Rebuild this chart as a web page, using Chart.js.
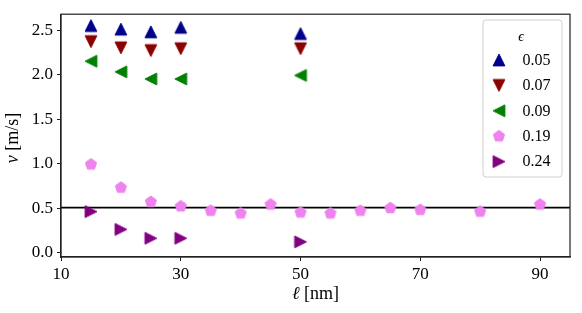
<!DOCTYPE html>
<html><head><meta charset="utf-8">
<script src="https://cdn.jsdelivr.net/npm/chart.js@4/dist/chart.umd.min.js"></script>
<style>html,body{margin:0;padding:0;background:#fff;}#wrap{width:582px;height:313px;}</style>
</head><body><div id="wrap"><canvas id="c" width="582" height="313"></canvas></div>
<script>
// ---- data ----
const epsLabels = ['0.05', '0.07', '0.09', '0.19', '0.24'];
const xA = [15, 20, 25, 30, 50];
const v005 = [2.55, 2.51, 2.48, 2.53, 2.46];
const v007 = [2.37, 2.30, 2.27, 2.29, 2.29];
const v009 = [2.15, 2.03, 1.95, 1.95, 1.99];
const xB = [15, 20, 25, 30, 35, 40, 45, 50, 55, 60, 65, 70, 80, 90];
const v019 = [0.99, 0.73, 0.57, 0.52, 0.47, 0.44, 0.54, 0.45, 0.44, 0.47, 0.50, 0.48, 0.46, 0.54];
const v024 = [0.46, 0.26, 0.16, 0.16, 0.12];
const refLevel = 0.505;
const xTicks = [10, 30, 50, 70, 90];
const yTicks = [0, 0.5, 1.0, 1.5, 2.0, 2.5];

const colors = ['#00008b', '#8b0000', '#008000', '#ee82ee', '#800080'];
const shapes = ['up', 'down', 'left', 'pent', 'right'];
const FONT = '"Liberation Serif", "DejaVu Serif", serif';

function makeMarker(shape, color, s) {
  const size = Math.ceil(s + 4);
  const c = document.createElement('canvas');
  c.width = size; c.height = size;
  const g = c.getContext('2d');
  const cx = size / 2, h = s / 2;
  g.beginPath();
  if (shape === 'up') { g.moveTo(cx, cx - h); g.lineTo(cx - h, cx + h); g.lineTo(cx + h, cx + h); }
  else if (shape === 'down') { g.moveTo(cx, cx + h); g.lineTo(cx - h, cx - h); g.lineTo(cx + h, cx - h); }
  else if (shape === 'left') { g.moveTo(cx - h, cx); g.lineTo(cx + h, cx - h); g.lineTo(cx + h, cx + h); }
  else if (shape === 'right') { g.moveTo(cx + h, cx); g.lineTo(cx - h, cx - h); g.lineTo(cx - h, cx + h); }
  else {
    for (let k = 0; k < 5; k++) {
      const a = -Math.PI / 2 + k * 2 * Math.PI / 5;
      const px = cx + h * Math.cos(a), py = cx + h * Math.sin(a);
      if (k === 0) g.moveTo(px, py); else g.lineTo(px, py);
    }
  }
  g.closePath();
  g.fillStyle = color; g.fill();
  g.strokeStyle = color; g.lineWidth = 1; g.stroke();
  return c;
}
const markers = shapes.map((sh, i) => makeMarker(sh, colors[i], 11.8));

const seriesX = [xA, xA, xA, xB, xA];
const seriesY = [v005, v007, v009, v019, v024];

const datasets = seriesY.map((ys, i) => ({
  type: 'scatter',
  label: epsLabels[i],
  data: ys.map((y, j) => ({ x: seriesX[i][j], y })),
  pointStyle: markers[i],
  pointRadius: 6,
  backgroundColor: colors[i],
  borderColor: colors[i]
}));
datasets.push({
  type: 'line',
  label: 'ref',
  data: [{ x: 10, y: refLevel }, { x: 95, y: refLevel }],
  borderColor: '#000',
  borderWidth: 1.6,
  pointRadius: 0,
  fill: false
});

const decor = {
  id: 'decor',
  afterDraw(chart) {
    const ctx = chart.ctx, a = chart.chartArea;
    ctx.save();
    // frame
    ctx.strokeStyle = '#222'; ctx.lineWidth = 1.2;
    ctx.strokeRect(a.left, a.top, a.right - a.left, a.bottom - a.top);
    ctx.fillStyle = '#000';
    // x title
    ctx.textBaseline = 'middle';
    const f1 = 'italic 18px ' + FONT, f2 = '18px ' + FONT;
    ctx.font = f1; const w1 = ctx.measureText('ℓ').width;
    ctx.font = f2; const w2 = ctx.measureText(' [nm]').width;
    let x0 = (a.left + a.right) / 2 - (w1 + w2) / 2;
    ctx.textAlign = 'left';
    ctx.font = f1; ctx.fillText('ℓ', x0, 294);
    ctx.font = f2; ctx.fillText(' [nm]', x0 + w1, 294);
    // y title
    ctx.save();
    ctx.translate(13, 138);
    ctx.rotate(-Math.PI / 2);
    ctx.font = f1; const u1 = ctx.measureText('v').width;
    ctx.font = f2; const u2 = ctx.measureText(' [m/s]').width;
    let y0 = -(u1 + u2) / 2;
    ctx.font = f1; ctx.fillText('v', y0, 0);
    ctx.font = f2; ctx.fillText(' [m/s]', y0 + u1, 0);
    ctx.restore();
    // legend
    const lx = 483, ly = 20, lw = 79, lh = 157, r = 3;
    ctx.beginPath();
    ctx.moveTo(lx + r, ly); ctx.lineTo(lx + lw - r, ly); ctx.arcTo(lx + lw, ly, lx + lw, ly + r, r);
    ctx.lineTo(lx + lw, ly + lh - r); ctx.arcTo(lx + lw, ly + lh, lx + lw - r, ly + lh, r);
    ctx.lineTo(lx + r, ly + lh); ctx.arcTo(lx, ly + lh, lx, ly + lh - r, r);
    ctx.lineTo(lx, ly + r); ctx.arcTo(lx, ly, lx + r, ly, r);
    ctx.closePath();
    ctx.fillStyle = 'rgba(255,255,255,0.85)'; ctx.fill();
    ctx.strokeStyle = '#d0d0d0'; ctx.lineWidth = 1; ctx.stroke();
    ctx.fillStyle = '#000';
    ctx.textAlign = 'center';
    ctx.font = 'italic 14px ' + FONT;
    ctx.fillText('ϵ', 521, 37);
    ctx.textAlign = 'left';
    ctx.font = '16px ' + FONT;
    for (let i = 0; i < epsLabels.length; i++) {
      const yy = 60 + 25.4 * i;
      const m = markers[i];
      ctx.drawImage(m, 499 - m.width / 2, yy - m.height / 2);
      ctx.fillText(epsLabels[i], 522.5, yy + 0.5);
    }
    ctx.restore();
  }
};

const tickFont = { family: FONT, size: 17 };
new Chart(document.getElementById('c'), {
  type: 'scatter',
  data: { datasets },
  options: {
    responsive: false,
    animation: false,
    devicePixelRatio: 1,
    layout: { padding: { left: 0, right: 12, top: 12, bottom: 0 } },
    plugins: { legend: { display: false }, tooltip: { enabled: false } },
    scales: {
      x: {
        type: 'linear', min: 10, max: 95,
        afterBuildTicks: s => { s.ticks = xTicks.map(v => ({ value: v })); },
        afterFit: s => { s.height = 56; },
        ticks: { font: tickFont, color: '#000', padding: 3, maxRotation: 0, autoSkip: false, callback: v => String(v) },
        grid: { drawOnChartArea: false, drawTicks: true, tickLength: 4, tickColor: '#222', tickWidth: 1 },
        border: { display: true, color: '#222', width: 1.2 }
      },
      y: {
        type: 'linear', min: -0.05, max: 2.678,
        afterBuildTicks: s => { s.ticks = yTicks.map(v => ({ value: v })); },
        afterFit: s => { s.width = 61; },
        ticks: { font: tickFont, color: '#000', padding: 4, autoSkip: false, callback: v => v.toFixed(1) },
        grid: { drawOnChartArea: false, drawTicks: true, tickLength: 4, tickColor: '#222', tickWidth: 1 },
        border: { display: true, color: '#222', width: 1.2 }
      }
    }
  },
  plugins: [decor]
});
</script></body></html>
